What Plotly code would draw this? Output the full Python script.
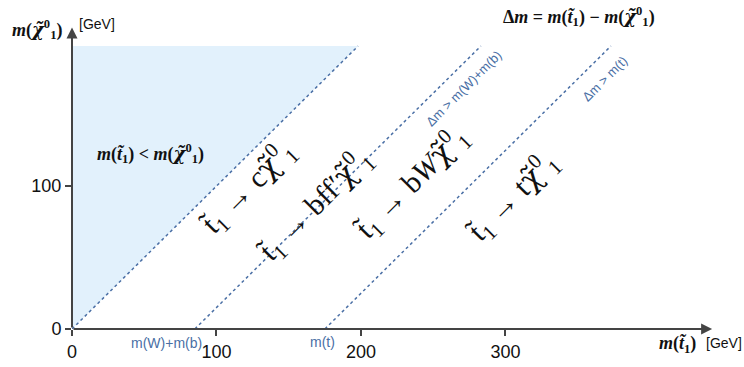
import plotly.graph_objects as go

# thresholds (GeV) where the dotted kinematic boundaries start on the x axis
boundary_starts = [0, 85, 175]
boundary_len = 198
x_ticks = [0, 100, 200, 300]
y_ticks = [0, 100]
forbidden_top = 198

line_col = "#4a6fa5"
axis_col = "#444444"

W, H = 744, 367
L, R, T, B = 72, 29, 26, 38
PW, PH = W - L - R, H - T - B

fig = go.Figure()

# forbidden region m(stop) < m(neutralino)
fig.add_trace(go.Scatter(
    x=[0, 0, forbidden_top, 0], y=[0, forbidden_top, forbidden_top, 0],
    fill="toself", fillcolor="#e2f1fc", line=dict(width=0), mode="lines",
    hoverinfo="skip", showlegend=False))

for x0 in boundary_starts:
    fig.add_trace(go.Scatter(
        x=[x0, x0 + boundary_len], y=[0, boundary_len], mode="lines",
        line=dict(color=line_col, width=1.5, dash="dot"), showlegend=False,
        hoverinfo="skip"))

tickfont = dict(family="Liberation Sans", size=18, color="#111")
fig.update_layout(
    width=W, height=H,
    margin=dict(l=L, r=R, t=T, b=B, autoexpand=False),
    paper_bgcolor="white", plot_bgcolor="white",
    xaxis=dict(range=[0, 445], tickvals=x_ticks, showgrid=False, zeroline=False,
               showline=False, ticks="outside", ticklen=6, tickwidth=1.5,
               tickcolor=axis_col, tickfont=tickfont, automargin=False),
    yaxis=dict(range=[0, 212], tickvals=y_ticks, showgrid=False, zeroline=False,
               showline=False, ticks="outside", ticklen=6, tickwidth=1.5,
               tickcolor=axis_col, tickfont=tickfont, automargin=False),
)

ann = []
# axes with arrows
ann.append(dict(x=443, y=0, ax=0, ay=0, xref="x", yref="y", axref="x", ayref="y",
                showarrow=True, arrowhead=2, arrowsize=1.1, arrowwidth=2,
                arrowcolor=axis_col, text=""))
ann.append(dict(x=0, y=211, ax=0, ay=0, xref="x", yref="y", axref="x", ayref="y",
                showarrow=True, arrowhead=2, arrowsize=1.1, arrowwidth=2,
                arrowcolor=axis_col, text=""))

serif = "Liberation Serif"
sans = "Liberation Sans"


def add(xp, yp, text, size, color="#111", family=serif, angle=0):
    # xp, yp are page pixel positions
    ann.append(dict(x=(xp - L) / PW, y=(H - B - yp) / PH, xref="paper", yref="paper",
                    text=text, showarrow=False, textangle=angle,
                    xanchor="center", yanchor="middle",
                    font=dict(family=family, size=size, color=color)))


chi = "<span style='font-family:DejaVu Serif'><i>χ̃</i></span><sup>0</sup><sub>1</sub>"
stop = "<i>t̃</i><sub>1</sub>"
add(37, 29, f"<b><i>m</i>({chi})</b>", 18)
add(97, 24, "[GeV]", 14, family=sans)
add(677, 344, f"<b><i>m</i>({stop})</b>", 18)
add(724, 343, "[GeV]", 14, family=sans)
add(579, 17, f"<b>Δ<i>m</i> = <i>m</i>({stop}) − <i>m</i>({chi})</b>", 18)
add(150, 153, f"<b><i>m</i>({stop}) &lt; <i>m</i>({chi})</b>", 18)

add(166, 343, "m(W)+m(b)", 14, color=line_col, family=sans)
add(322, 342, "m(t)", 14, color=line_col, family=sans)
add(464, 89, "Δm &gt; m(W)+m(b)", 13, color=line_col, family=sans, angle=-45)
add(604, 79, "Δm &gt; m(t)", 13, color=line_col, family=sans, angle=-45)

bchi = "<span style='font-family:DejaVu Serif'>χ̃</span><sup>0</sup><sub>1</sub>"
add(247, 187, f"t̃<sub>1</sub> → c{bchi}", 30, angle=-45)
add(315, 205, f"t̃<sub>1</sub> → bff′{bchi}", 30, angle=-45)
add(411, 182, f"t̃<sub>1</sub> → b<i>W</i>{bchi}", 30, angle=-45)
add(512, 196, f"t̃<sub>1</sub> → t{bchi}", 30, angle=-45)

fig.update_layout(annotations=ann)
fig.write_html("out.html", config={"displayModeBar": False},
               post_script="document.body.style.margin='0';")
